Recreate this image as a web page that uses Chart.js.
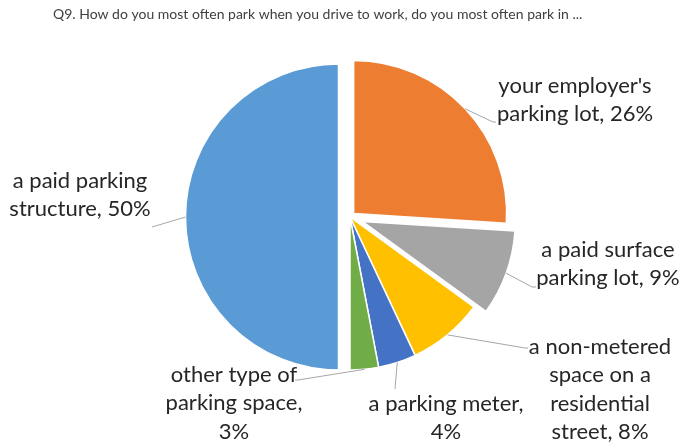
<!DOCTYPE html>
<html>
<head>
<meta charset="utf-8">
<script src="https://cdn.jsdelivr.net/npm/chart.js@4/dist/chart.umd.min.js"></script>
<style>
  html, body { margin: 0; padding: 0; background: #ffffff; }
  #wrap { position: relative; width: 682px; height: 445px; }
</style>
</head>
<body>
<div id="wrap"><canvas id="parkChart" width="682" height="445"></canvas></div>
<script>
// Survey question and answers
const questionTitle = 'Q9. How do you most often park when you drive to work, do you most often park in ...';
const categories = [
  "your employer's parking lot",
  'a paid surface parking lot',
  'a non-metered space on a residential street',
  'a parking meter',
  'other type of parking space',
  'a paid parking structure'
];
const shares = [26, 9, 8, 4, 3, 50];
const sliceColors = ['#ED7D31', '#A5A5A5', '#FFC000', '#4472C4', '#70AD47', '#5B9BD5'];

// how far each slice is pulled out of the pie (px)
const explode = [5, 13, 0, 0, 0, 11.5];

const LABEL_FONT = '22px Lato';
const LINE_H = 28.3;

// label anchor (centre x, first baseline y), wrap width and leader bend points
const labelLayout = [
  { x: 575, y: 93, maxWidth: 170, leader: [[493, 122], [496, 122]] },
  { x: 608, y: 257, maxWidth: 165, leader: [[532, 287], [536, 287]] },
  { x: 600, y: 354, maxWidth: 160, leader: [[525, 348], [528, 348]] },
  { x: 446, y: 411, maxWidth: 175, leader: [[395, 389]] },
  { x: 234, y: 382, maxWidth: 155, leader: [[298, 380], [295, 380]] },
  { x: 80, y: 188, maxWidth: 165, leader: [[152, 227]] }
];

function wrapText(ctx, text, maxWidth) {
  const words = text.split(' ');
  const lines = [];
  let cur = '';
  words.forEach(w => {
    const test = cur ? cur + ' ' + w : w;
    if (cur && ctx.measureText(test).width > maxWidth) {
      lines.push(cur);
      cur = w;
    } else {
      cur = test;
    }
  });
  if (cur) lines.push(cur);
  return lines;
}

// draw each arc shifted outward along its mid angle
const explodedSlices = {
  id: 'explodedSlices',
  beforeDatasetDraw(chart, args) {
    const ctx = chart.ctx;
    args.meta.data.forEach((arc, i) => {
      const mid = (arc.startAngle + arc.endAngle) / 2;
      const d = explode[i] || 0;
      ctx.save();
      ctx.translate(Math.cos(mid) * d, Math.sin(mid) * d);
      arc.draw(ctx);
      ctx.restore();
    });
    return false;
  }
};

// title, leader lines and wrapped data labels
const sliceLabels = {
  id: 'sliceLabels',
  afterDatasetsDraw(chart) {
    const ctx = chart.ctx;
    const meta = chart.getDatasetMeta(0);
    ctx.save();

    ctx.font = '14px Lato';
    ctx.fillStyle = '#404040';
    ctx.textAlign = 'left';
    ctx.textBaseline = 'alphabetic';
    ctx.fillText(questionTitle, 53, 19);

    ctx.font = LABEL_FONT;
    meta.data.forEach((arc, i) => {
      const mid = (arc.startAngle + arc.endAngle) / 2;
      const r = arc.outerRadius + (explode[i] || 0);
      const sx = arc.x + Math.cos(mid) * r;
      const sy = arc.y + Math.sin(mid) * r;
      const lay = labelLayout[i];

      ctx.strokeStyle = '#A6A6A6';
      ctx.lineWidth = 1;
      ctx.beginPath();
      ctx.moveTo(sx, sy);
      lay.leader.forEach(p => ctx.lineTo(p[0], p[1]));
      ctx.stroke();

      const text = categories[i] + ', ' + shares[i] + '%';
      const lines = wrapText(ctx, text, lay.maxWidth);
      ctx.fillStyle = '#262626';
      ctx.textAlign = 'center';
      lines.forEach((ln, k) => ctx.fillText(ln, lay.x, lay.y + k * LINE_H));
    });
    ctx.restore();
  }
};

new Chart(document.getElementById('parkChart'), {
  type: 'pie',
  data: {
    labels: categories,
    datasets: [{
      data: shares,
      backgroundColor: sliceColors,
      borderColor: '#ffffff',
      borderWidth: 1.5
    }]
  },
  options: {
    responsive: false,
    animation: false,
    radius: 153,
    layout: { padding: { left: 18, right: 0, top: 0, bottom: 11 } },
    plugins: {
      legend: { display: false },
      title: { display: false },
      tooltip: { enabled: false }
    }
  },
  plugins: [explodedSlices, sliceLabels]
});
</script>
</body>
</html>
